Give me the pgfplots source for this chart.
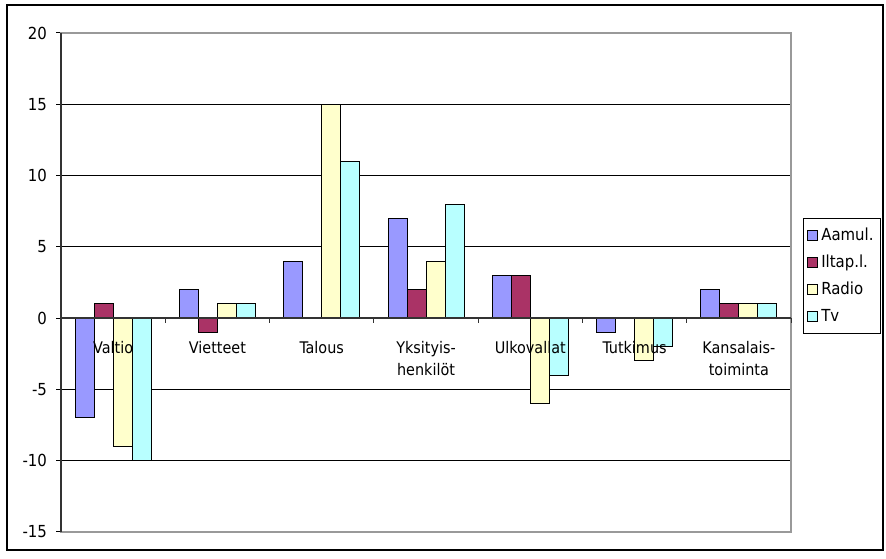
\documentclass[border=0pt]{standalone}
\usepackage{pgfplots}
\pgfplotsset{compat=1.18}
\usepackage{fontspec}
\setmainfont{DejaVu Sans Condensed}
\definecolor{cA}{HTML}{9999FF}
\definecolor{cB}{HTML}{AA3366}
\definecolor{cC}{HTML}{FFFFCC}
\definecolor{cD}{HTML}{B8FFFF}
\begin{document}
\begin{tikzpicture}
\begin{axis}[
  scale only axis, width=365pt, height=249.5pt,
  xmin=-0.5, xmax=6.5, ymin=-15, ymax=20,
  ybar=0pt, bar width=9.5pt,
  xtick=\empty,
  ytick={-15,-10,-5,0,5,10,15,20},
  yticklabels={-15,-10,-5,0,5,10,15,20},
  ytick pos=left, tick align=outside, major tick length=2.5pt,
  tick style={black, line width=0.5pt},
  ymajorgrids, grid style={black, line width=0.5pt},
  axis line style={draw=gray!80, line width=0.6pt},
  ticklabel style={font=\fontsize{8.3}{10}\selectfont},
  yticklabel style={xshift=-1pt},
  legend style={at={(1,0.513)}, anchor=west, xshift=6pt, draw=black, line width=0.5pt,
    font=\fontsize{8.3}{10}\selectfont, inner xsep=1.5pt, inner ysep=2.5pt, row sep=1.8pt},
  legend cell align=left,
  legend image code/.code={\draw[#1,draw=black,line width=0.4pt] (0pt,-2.5pt) rectangle (5pt,2.5pt);},
  every axis plot/.append style={draw=black, line width=0.5pt},
  clip=false,
]
\addplot[fill=cA] coordinates {(0,-7) (1,2) (2,4) (3,7) (4,3) (5,-1) (6,2)};
\addplot[fill=cB] coordinates {(0,1) (1,-1) (2,0) (3,2) (4,3) (5,0) (6,1)};
\addplot[fill=cC] coordinates {(0,-9) (1,1) (2,15) (3,4) (4,-6) (5,-3) (6,1)};
\addplot[fill=cD] coordinates {(0,-10) (1,1) (2,11) (3,8) (4,-4) (5,-2) (6,1)};
\legend{Aamul.,Iltap.l.,Radio,Tv}
\draw[black!80, line width=0.7pt] (axis cs:-0.5,0) -- (axis cs:6.5,0);
\draw[black!80, line width=0.7pt] (axis cs:-0.5,-15) -- (axis cs:-0.5,20);
\pgfplotsinvokeforeach{0.5,1.5,2.5,3.5,4.5,5.5,6.5}{
  \draw[black!80, line width=0.5pt] (axis cs:#1,0) -- ([yshift=-2.5pt]axis cs:#1,0);
}
\def\lbl#1#2{\node[anchor=north, align=center, font=\fontsize{8}{11}\selectfont, yshift=-11.5pt, inner sep=0pt] at (axis cs:#1,0) {#2};}
\lbl{0}{Valtio}
\lbl{1}{Vietteet}
\lbl{2}{Talous}
\lbl{3}{Yksityis-\\henkilöt}
\lbl{4}{Ulkovallat}
\lbl{5}{Tutkimus}
\lbl{6}{Kansalais-\\toiminta}
\end{axis}
\draw[black, line width=0.7pt] ([xshift=-27pt,yshift=-9pt]current axis.south west) rectangle ([xshift=46pt,yshift=14pt]current axis.north east);
\path ([xshift=-30.5pt,yshift=-13.5pt]current axis.south west) rectangle ([xshift=47.5pt,yshift=16.5pt]current axis.north east);
\end{tikzpicture}
\end{document}
